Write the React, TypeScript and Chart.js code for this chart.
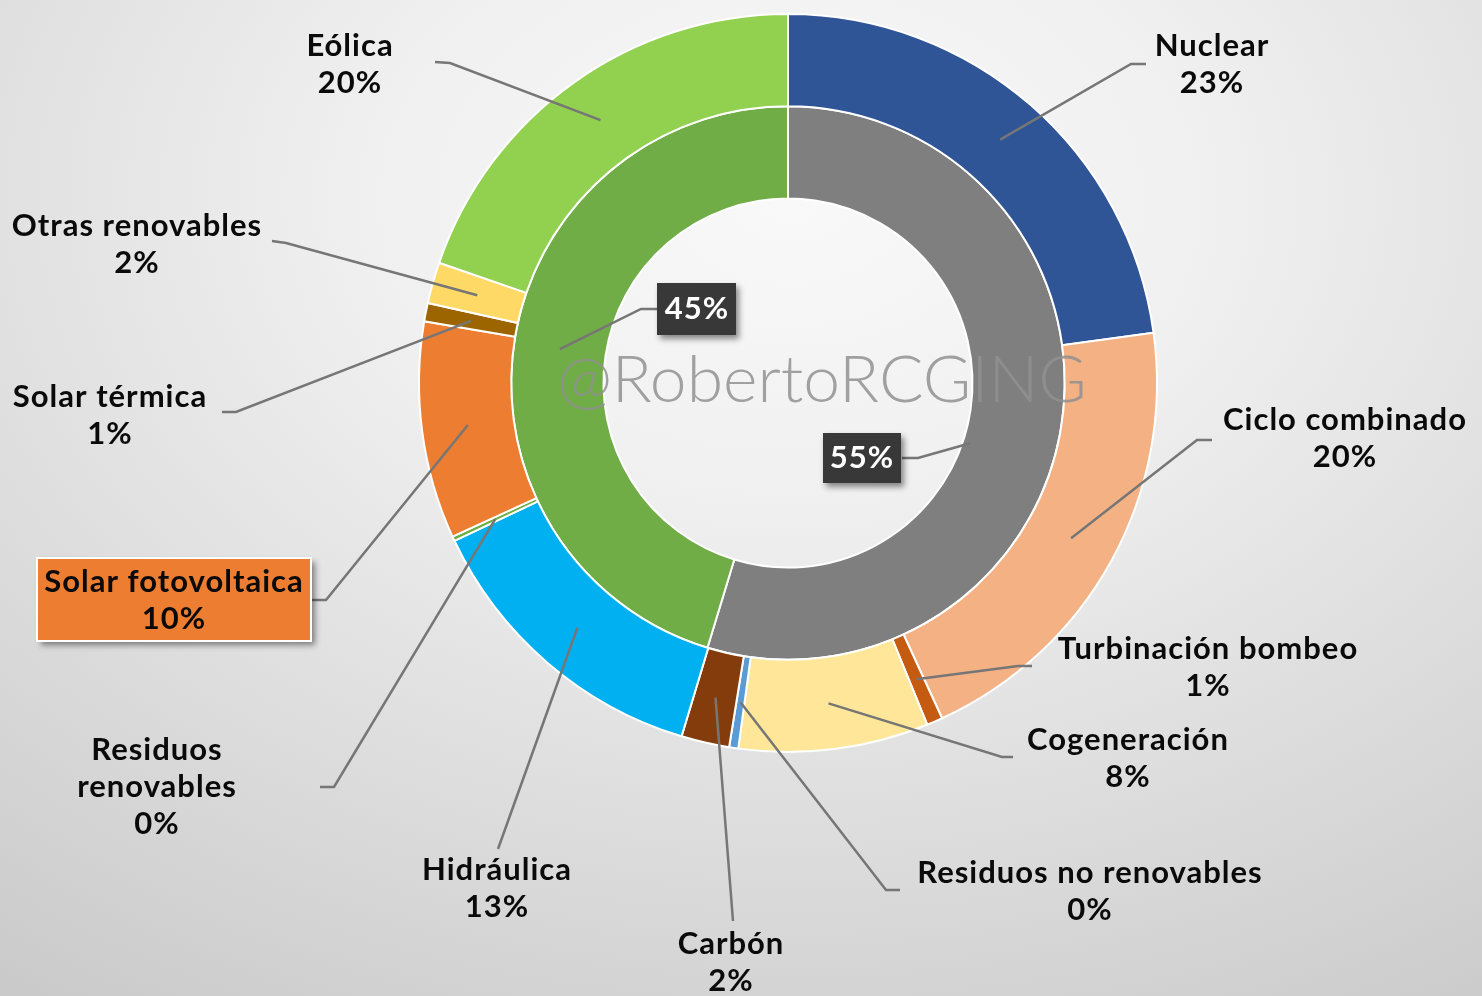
import React, { useEffect, useRef } from "react";
import { Chart, registerables } from "chart.js";

Chart.register(...registerables);

// ---------- DATA ----------
const categories = [
  "Nuclear",
  "Ciclo combinado",
  "Turbinación bombeo",
  "Cogeneración",
  "Residuos no renovables",
  "Carbón",
  "Hidráulica",
  "Residuos renovables",
  "Solar fotovoltaica",
  "Solar térmica",
  "Otras renovables",
  "Eólica",
];
const shares = [22.8, 20.3, 0.7, 8.3, 0.4, 2.1, 13.3, 0.2, 9.5, 0.8, 1.8, 19.7];
const groups = ["No renovable", "Renovable"];
const groupShares = [54.7, 45.3];

// ---------- STYLE ----------
const sliceColors = [
  "#2F5597",
  "#F4B183",
  "#C55A11",
  "#FFE699",
  "#5B9BD5",
  "#843C0C",
  "#00B0F0",
  "#70AD47",
  "#ED7D31",
  "#9C6500",
  "#FFD966",
  "#92D050",
];
const groupColors = ["#7F7F7F", "#70AD47"];

type LabelLayout = {
  x: number;
  y: number;
  lines?: string[];
  end: [number, number];
  elbow?: [number, number];
  box?: [number, number, number, number];
  af?: number;
  rf?: number;
};

const outerLayout: LabelLayout[] = [
  { x: 1212, y: 46, end: [1146, 64], elbow: [1131, 64] },
  { x: 1345, y: 420, end: [1212, 440], elbow: [1197, 440] },
  { x: 1208, y: 649, end: [1032, 666], elbow: [1018, 666] },
  { x: 1128, y: 740, end: [1013, 757], elbow: [1002, 757] },
  { x: 1090, y: 873, end: [900, 890], elbow: [886, 890] },
  { x: 731, y: 944, end: [733, 921] },
  { x: 497, y: 870, end: [498, 849] },
  { x: 157, y: 750, lines: ["Residuos", "renovables"], end: [320, 787], elbow: [334, 787] },
  { x: 174, y: 582, end: [311, 600], elbow: [326, 600], box: [37, 558, 274, 83] },
  { x: 110, y: 397, end: [222, 412], elbow: [236, 412] },
  { x: 137, y: 226, end: [272, 241], elbow: [286, 243] },
  { x: 350, y: 46, end: [435, 62], elbow: [450, 63] },
];

const innerLayout: LabelLayout[] = [
  { x: 862, y: 458, end: [902, 458], elbow: [918, 458], box: [823, 433, 78, 50], af: 0.55, rf: 0.08 },
  { x: 697, y: 309, end: [657, 309], elbow: [641, 309], box: [657, 283, 79, 52] },
];

const LABEL_FONT = "bold 31px Lato, 'Noto Sans', 'DejaVu Sans', sans-serif";
const LINE_H = 37;

function pct(v: number, arr: number[]) {
  const t = arr.reduce((a, b) => a + b, 0);
  return Math.round((v / t) * 100) + "%";
}

function anchorOf(arc: any, af = 0.5, rf = 0.5) {
  const p = arc.getProps(["x", "y", "startAngle", "endAngle", "innerRadius", "outerRadius"], true);
  const a = p.startAngle + af * (p.endAngle - p.startAngle);
  const r = p.innerRadius + rf * (p.outerRadius - p.innerRadius);
  return [p.x + Math.cos(a) * r, p.y + Math.sin(a) * r];
}

const decorPlugin = {
  id: "decor",
  beforeDraw(chart: any) {
    const { ctx, width, height } = chart;
    ctx.save();
    ctx.translate(790, 200);
    ctx.scale(1.4, 1);
    const g = ctx.createRadialGradient(0, 0, 0, 0, 0, 1000);
    g.addColorStop(0, "#f9f9f9");
    g.addColorStop(0.3, "#f0f0f0");
    g.addColorStop(1, "#c8c8c8");
    ctx.fillStyle = g;
    ctx.fillRect(-790 / 1.4 - 10, -210, width / 1.4 + 20, height + 20);
    ctx.restore();
  },
  afterDatasetsDraw(chart: any) {
    const ctx = chart.ctx;
    const outerMeta = chart.getDatasetMeta(0);
    const innerMeta = chart.getDatasetMeta(1);

    // watermark
    ctx.save();
    ctx.font = "300 66px Lato, 'Open Sans', sans-serif";
    ctx.fillStyle = "rgba(145,145,145,0.85)";
    ctx.textAlign = "center";
    ctx.textBaseline = "alphabetic";
    ctx.fillText("@RobertoRCGING", 822, 402);
    ctx.restore();

    const drawLeader = (arc: any, L: LabelLayout) => {
      const [ax, ay] = anchorOf(arc, L.af ?? 0.5, L.rf ?? 0.5);
      ctx.save();
      ctx.strokeStyle = "#767676";
      ctx.lineWidth = 2.5;
      ctx.beginPath();
      ctx.moveTo(ax, ay);
      if (L.elbow) ctx.lineTo(L.elbow[0], L.elbow[1]);
      ctx.lineTo(L.end[0], L.end[1]);
      ctx.stroke();
      ctx.restore();
    };

    outerLayout.forEach((L, i) => drawLeader(outerMeta.data[i], L));
    innerLayout.forEach((L, i) => drawLeader(innerMeta.data[i], L));

    // outer labels
    outerLayout.forEach((L, i) => {
      const lines = [...(L.lines ?? [categories[i]]), pct(shares[i], shares)];
      ctx.save();
      if (L.box) {
        const [bx, by, bw, bh] = L.box;
        ctx.shadowColor = "rgba(0,0,0,0.45)";
        ctx.shadowBlur = 6;
        ctx.shadowOffsetX = 4;
        ctx.shadowOffsetY = 4;
        ctx.fillStyle = sliceColors[i];
        ctx.fillRect(bx, by, bw, bh);
        ctx.shadowColor = "transparent";
        ctx.strokeStyle = "#ffffff";
        ctx.lineWidth = 2;
        ctx.strokeRect(bx, by, bw, bh);
      }
      ctx.font = LABEL_FONT;
      (ctx as any).letterSpacing = "1px";
      ctx.fillStyle = "#0a0a0a";
      ctx.textAlign = "center";
      ctx.textBaseline = "middle";
      lines.forEach((t, k) => ctx.fillText(t, L.x, L.y + k * LINE_H));
      ctx.restore();
    });

    // inner labels
    innerLayout.forEach((L, i) => {
      ctx.save();
      const [bx, by, bw, bh] = L.box!;
      ctx.shadowColor = "rgba(0,0,0,0.45)";
      ctx.shadowBlur = 6;
      ctx.shadowOffsetX = 3;
      ctx.shadowOffsetY = 4;
      ctx.fillStyle = "#383838";
      ctx.fillRect(bx, by, bw, bh);
      ctx.shadowColor = "transparent";
      ctx.font = LABEL_FONT;
      (ctx as any).letterSpacing = "1px";
      ctx.fillStyle = "#ffffff";
      ctx.textAlign = "center";
      ctx.textBaseline = "middle";
      ctx.fillText(pct(groupShares[i], groupShares), L.x, L.y);
      ctx.restore();
    });
  },
};

export default function App() {
  const ref = useRef<HTMLCanvasElement | null>(null);

  useEffect(() => {
    if (!ref.current) return;
    const chart = new Chart(ref.current, {
      type: "doughnut",
      data: {
        labels: categories,
        datasets: [
          {
            label: "Tecnología",
            data: shares,
            backgroundColor: sliceColors,
            borderColor: "#ffffff",
            borderWidth: 2,
          },
          {
            label: "Grupo",
            data: groupShares,
            backgroundColor: groupColors,
            borderColor: "#ffffff",
            borderWidth: 2,
          },
        ],
      },
      options: {
        responsive: false,
        animation: false,
        cutout: "50%",
        layout: { padding: { left: 418, top: 13, right: 324, bottom: 243 } },
        plugins: {
          legend: { display: false },
          tooltip: { enabled: false },
        },
      },
      plugins: [decorPlugin],
    });
    return () => chart.destroy();
  }, []);

  return (
    <div style={{ position: "absolute", left: 0, top: 0, width: 1482, height: 996 }}>
      <canvas ref={ref} width={1482} height={996} style={{ display: "block" }} />
    </div>
  );
}
